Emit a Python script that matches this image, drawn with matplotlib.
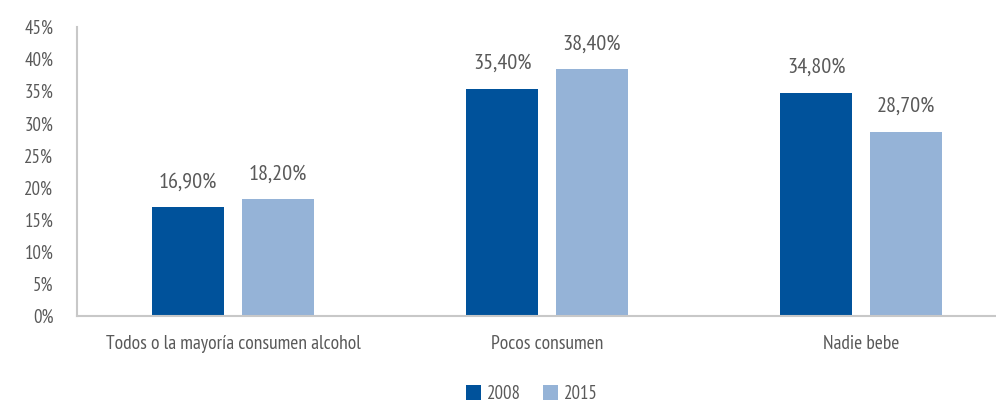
import numpy as np
import matplotlib.pyplot as plt

categorias = ["Todos o la mayoría consumen alcohol", "Pocos consumen", "Nadie bebe"]
anios = ["2008", "2015"]
v2008 = [16.9, 35.4, 34.8]
v2015 = [18.2, 38.4, 28.7]
colores = ["#00529B", "#95B3D7"]

plt.rcParams['font.family'] = ["PT Sans Narrow", "DejaVu Sans"]
gris = "#595959"

fig = plt.figure(figsize=(9.96, 4.04), dpi=100)
ax = fig.add_axes([77/996, 1-316/404, 1-77/996, 289/404])

x = np.arange(len(categorias))
w = 0.23
off = 0.143
for serie, vals, col, d in zip(anios, [v2008, v2015], colores, [-off, off]):
    b = ax.bar(x + d, vals, w, color=col, label=serie)
    for rect, v in zip(b, vals):
        ax.annotate(f"{v:.2f}%".replace(".", ","), (rect.get_x() + rect.get_width()/2, v),
                    xytext=(0, 18), textcoords="offset points", ha="center", va="center",
                    fontsize=16, color=gris)

ax.set_xlim(-0.497, 2.43)
ax.set_ylim(0, 45)
ax.set_yticks(np.arange(0, 46, 5))
ax.set_yticklabels([f"{t}%" for t in range(0, 46, 5)])
ax.set_xticks(x)
ax.set_xticklabels(categorias)
ax.tick_params(axis="y", length=0, labelsize=13.5, labelcolor=gris, pad=17)
ax.tick_params(axis="x", length=0, labelsize=14, labelcolor=gris, pad=14)
for s in ["top", "right"]:
    ax.spines[s].set_visible(False)
for s in ["left", "bottom"]:
    ax.spines[s].set_color("#C8C8C8")
    ax.spines[s].set_linewidth(1.5)

fig.legend(loc="center", bbox_to_anchor=(532/996, 1-394/404), ncol=2, frameon=False,
           fontsize=13.5, labelcolor=gris, handlelength=0.8, handleheight=0.8,
           handletextpad=0.3, columnspacing=1.2)

fig.savefig("out.png", dpi=100)
